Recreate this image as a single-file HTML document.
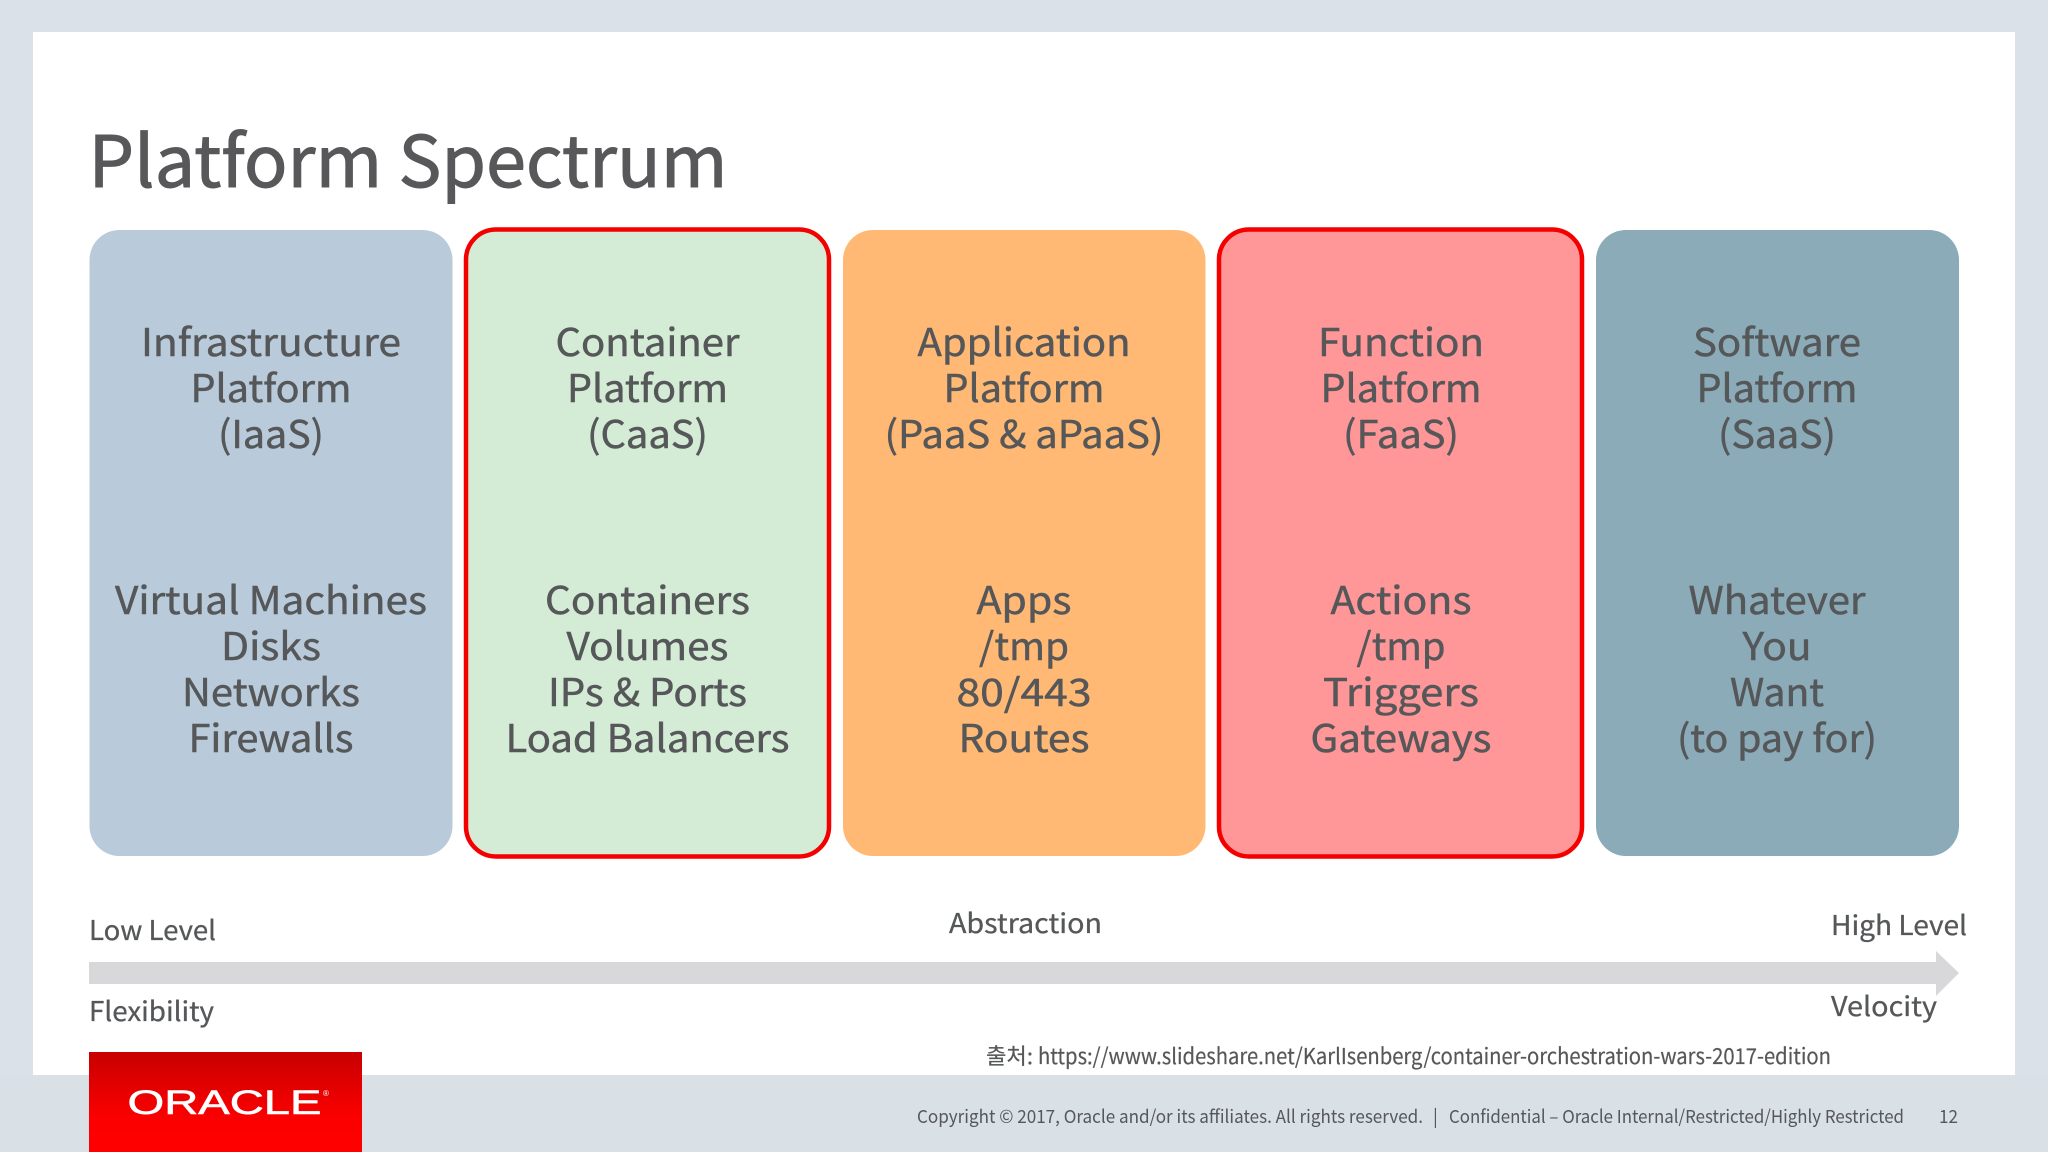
<!DOCTYPE html>
<html>
<head>
<meta charset="utf-8">
<style>
html,body{margin:0;padding:0;width:2048px;height:1152px;overflow:hidden;background:#dbe1e8}
svg{display:block}
text{font-family:"Noto Sans CJK KR","Liberation Sans",sans-serif;fill:#555759;stroke:#555759;stroke-width:0.500}
.h{font-size:38px;text-anchor:middle}
.l{font-size:27px;stroke-width:0.300}
.f{font-size:18px;stroke-width:0}
.u{stroke-width:0.200}
</style>
</head>
<body>
<svg width="2048" height="1152" viewBox="0 0 2048 1152" xmlns="http://www.w3.org/2000/svg">
<defs>
<linearGradient id="red" x1="0" y1="0" x2="0" y2="1">
<stop offset="0" stop-color="#c70000"/>
<stop offset="0.65" stop-color="#fb0000"/>
<stop offset="1" stop-color="#ff0000"/>
</linearGradient>
</defs>
<rect width="2048" height="1152" fill="#dbe1e8"/>
<rect y="1075" width="2048" height="77" fill="#d9e0e6"/>
<rect x="33" y="32" width="1982" height="1043" fill="#ffffff"/>

<text x="88.500" y="187" font-size="71" textLength="639" lengthAdjust="spacingAndGlyphs" style="fill:#58585a;stroke:#58585a;stroke-width:1">Platform Spectrum</text>

<rect x="89.500" y="230" width="363" height="626" rx="30" fill="#b9cbdb"/>
<rect x="466" y="229.500" width="363" height="627" rx="30" fill="#d4ecd6" stroke="#f40000" stroke-width="4.500"/>
<rect x="843" y="230" width="362.500" height="626" rx="30" fill="#ffb974"/>
<rect x="1219" y="229.500" width="363" height="627" rx="30" fill="#ff9698" stroke="#f40000" stroke-width="4.500"/>
<rect x="1596" y="230" width="363" height="626" rx="30" fill="#8aabb7"/>

<text class="h" x="271" y="356" textLength="260" lengthAdjust="spacingAndGlyphs">Infrastructure</text>
<text class="h" x="271" y="402" textLength="161" lengthAdjust="spacingAndGlyphs">Platform</text>
<text class="h" x="271" y="448" textLength="106" lengthAdjust="spacingAndGlyphs">(IaaS)</text>
<text class="h" x="271" y="614" textLength="312" lengthAdjust="spacingAndGlyphs">Virtual Machines</text>
<text class="h" x="271" y="660" textLength="100" lengthAdjust="spacingAndGlyphs">Disks</text>
<text class="h" x="271" y="706" textLength="178" lengthAdjust="spacingAndGlyphs">Networks</text>
<text class="h" x="271" y="752" textLength="165" lengthAdjust="spacingAndGlyphs">Firewalls</text>

<text class="h" x="647.500" y="356" textLength="184" lengthAdjust="spacingAndGlyphs">Container</text>
<text class="h" x="647.500" y="402" textLength="161" lengthAdjust="spacingAndGlyphs">Platform</text>
<text class="h" x="647.500" y="448" textLength="121" lengthAdjust="spacingAndGlyphs">(CaaS)</text>
<text class="h" x="647.500" y="614" textLength="205" lengthAdjust="spacingAndGlyphs">Containers</text>
<text class="h" x="647.500" y="660" textLength="162" lengthAdjust="spacingAndGlyphs">Volumes</text>
<text class="h" x="647.500" y="706" textLength="199" lengthAdjust="spacingAndGlyphs">IPs &amp; Ports</text>
<text class="h" x="647.500" y="752" textLength="284" lengthAdjust="spacingAndGlyphs">Load Balancers</text>

<text class="h" x="1024" y="356" textLength="213" lengthAdjust="spacingAndGlyphs">Application</text>
<text class="h" x="1024" y="402" textLength="161" lengthAdjust="spacingAndGlyphs">Platform</text>
<text class="h" x="1024" y="448" textLength="279" lengthAdjust="spacingAndGlyphs">(PaaS &amp; aPaaS)</text>
<text class="h" x="1024" y="614" textLength="95" lengthAdjust="spacingAndGlyphs">Apps</text>
<text class="h" x="1024" y="660" textLength="90" lengthAdjust="spacingAndGlyphs">/tmp</text>
<text class="h" x="1024" y="706" textLength="135" lengthAdjust="spacingAndGlyphs">80/443</text>
<text class="h" x="1024" y="752" textLength="131" lengthAdjust="spacingAndGlyphs">Routes</text>

<text class="h" x="1401" y="356" textLength="166" lengthAdjust="spacingAndGlyphs">Function</text>
<text class="h" x="1401" y="402" textLength="161" lengthAdjust="spacingAndGlyphs">Platform</text>
<text class="h" x="1401" y="448" textLength="116" lengthAdjust="spacingAndGlyphs">(FaaS)</text>
<text class="h" x="1401" y="614" textLength="141" lengthAdjust="spacingAndGlyphs">Actions</text>
<text class="h" x="1401" y="660" textLength="89" lengthAdjust="spacingAndGlyphs">/tmp</text>
<text class="h" x="1401" y="706" textLength="156" lengthAdjust="spacingAndGlyphs">Triggers</text>
<text class="h" x="1401" y="752" textLength="181" lengthAdjust="spacingAndGlyphs">Gateways</text>

<text class="h" x="1777" y="356" textLength="168" lengthAdjust="spacingAndGlyphs">Software</text>
<text class="h" x="1777" y="402" textLength="161" lengthAdjust="spacingAndGlyphs">Platform</text>
<text class="h" x="1777" y="448" textLength="118" lengthAdjust="spacingAndGlyphs">(SaaS)</text>
<text class="h" x="1777" y="614" textLength="177" lengthAdjust="spacingAndGlyphs">Whatever</text>
<text class="h" x="1777" y="660" textLength="69" lengthAdjust="spacingAndGlyphs">You</text>
<text class="h" x="1777" y="706" textLength="94" lengthAdjust="spacingAndGlyphs">Want</text>
<text class="h" x="1777" y="752" textLength="200" lengthAdjust="spacingAndGlyphs">(to pay for)</text>

<text class="l" x="89" y="940" textLength="127" lengthAdjust="spacingAndGlyphs">Low Level</text>
<text class="l" x="949" y="933" textLength="153" lengthAdjust="spacingAndGlyphs">Abstraction</text>
<text class="l" x="1831" y="935" textLength="136" lengthAdjust="spacingAndGlyphs">High Level</text>

<polygon points="89,962 1936,962 1936,951 1959,973 1936,996 1936,984 89,984" fill="#d8d8db"/>

<text class="l" x="89" y="1021" textLength="125" lengthAdjust="spacingAndGlyphs">Flexibility</text>
<text class="l" x="1831" y="1016" textLength="106" lengthAdjust="spacingAndGlyphs">Velocity</text>

<text class="u" x="986" y="1064" font-size="22" textLength="47" lengthAdjust="spacingAndGlyphs">출처:</text>
<text class="u" x="1038" y="1064" font-size="22" textLength="793" lengthAdjust="spacingAndGlyphs">https://www.slideshare.net/KarlIsenberg/container-orchestration-wars-2017-edition</text>

<rect x="89" y="1052" width="273" height="100" fill="url(#red)"/>
<text x="127.500" y="1114" font-size="34" textLength="194" lengthAdjust="spacingAndGlyphs" style="fill:#ffffff;stroke:#ffffff;stroke-width:0.600;font-family:'Liberation Sans',sans-serif">ORACLE</text>
<text x="323" y="1096" font-size="8" style="fill:#ffffff;stroke:none;font-family:'Liberation Sans',sans-serif">®</text>

<text class="f" x="917" y="1123" textLength="506" lengthAdjust="spacingAndGlyphs">Copyright © 2017, Oracle and/or its affiliates. All rights reserved.</text>
<text class="f" x="1433" y="1123">|</text>
<text class="f" x="1449" y="1123" textLength="455" lengthAdjust="spacingAndGlyphs">Confidential – Oracle Internal/Restricted/Highly Restricted</text>
<text class="f" x="1939" y="1123" textLength="19" lengthAdjust="spacingAndGlyphs">12</text>
</svg>
</body>
</html>
